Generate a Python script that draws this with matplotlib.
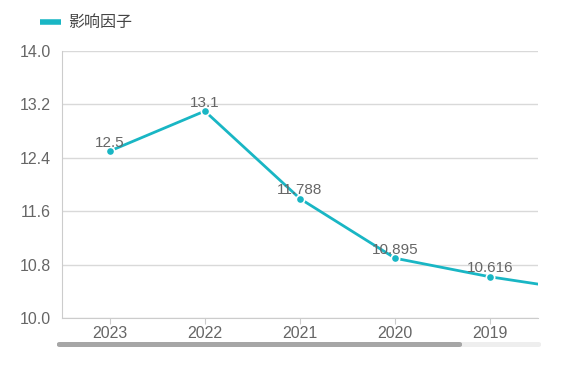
import matplotlib.pyplot as plt
from matplotlib.patches import FancyBboxPatch

plt.rcParams['font.family'] = ['Liberation Sans', 'Noto Sans CJK SC', 'DejaVu Sans']

# data (2018 is only partly visible, the chart is scrolled)
years = ['2023', '2022', '2021', '2020', '2019', '2018']
impact = [12.5, 13.1, 11.788, 10.895, 10.616, 10.40]
labels = ['12.5', '13.1', '11.788', '10.895', '10.616', '']
yticks = [10.0, 10.8, 11.6, 12.4, 13.2, 14.0]

teal = '#19b6c4'
grey_txt = '#666666'

fig = plt.figure(figsize=(5.63, 3.66), dpi=100)
ax = fig.add_axes([62 / 563, 1 - 318 / 366, 476 / 563, 267 / 366])

x = list(range(len(years)))
ax.plot(x, impact, color=teal, lw=2, marker='o', ms=6,
        mec='white', mew=1.2, zorder=3)

for xi, v, t in zip(x, impact, labels):
    if t:
        ax.annotate(t, (xi, v), xytext=(0, 1), textcoords='offset points',
                    ha='center', va='bottom', fontsize=11, color=grey_txt)

ax.set_xlim(-0.5, 4.5)
ax.set_ylim(10.0, 14.0)
ax.set_xticks(x[:5])
ax.set_xticklabels(years[:5])
ax.set_yticks(yticks)
ax.set_yticklabels(['%.1f' % t for t in yticks])
ax.grid(axis='y', color='#d9d9d9', lw=1)
ax.set_axisbelow(True)

for s in ['top', 'right']:
    ax.spines[s].set_visible(False)
for s in ['left', 'bottom']:
    ax.spines[s].set_color('#cccccc')
ax.tick_params(axis='x', colors='#cccccc', length=4, labelcolor=grey_txt,
               labelsize=11.5, pad=2)
ax.tick_params(axis='y', length=0, labelcolor=grey_txt, labelsize=11.5, pad=8)

# legend
fig.add_artist(plt.Line2D([40 / 563, 61 / 563], [1 - 22 / 366] * 2,
                          color=teal, lw=4, solid_capstyle='butt'))
fig.text(68 / 563, 1 - 22 / 366, '影响因子', fontsize=11.5, color='#444444',
         va='center', ha='left')

# scrollbar
fig.add_artist(FancyBboxPatch((57 / 563, 1 - 347 / 366), 484 / 563, 5 / 366,
                              boxstyle='round,pad=0,rounding_size=0.005',
                              transform=fig.transFigure, fc='#eeeeee', ec='none'))
fig.add_artist(FancyBboxPatch((57 / 563, 1 - 347 / 366), 405 / 563, 5 / 366,
                              boxstyle='round,pad=0,rounding_size=0.005',
                              transform=fig.transFigure, fc='#a6a6a6', ec='none'))

fig.savefig('out.png', dpi=100)
